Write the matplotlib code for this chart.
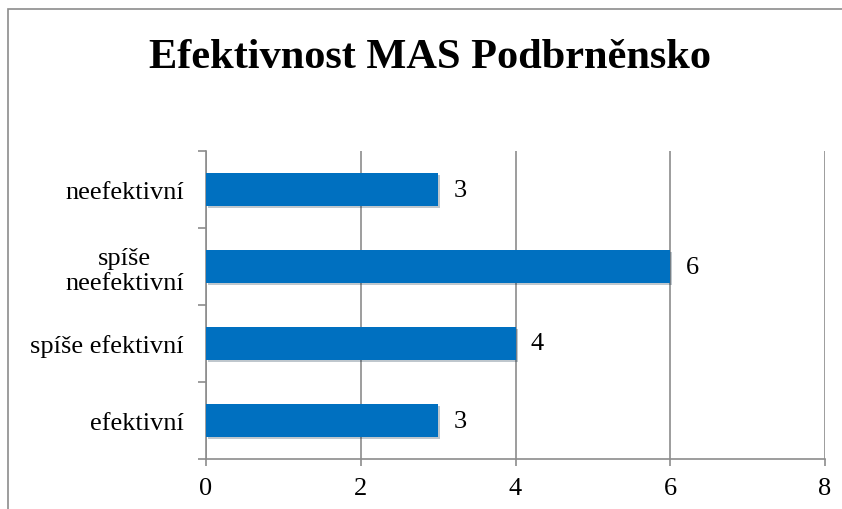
import matplotlib.pyplot as plt
import matplotlib.patheffects as pe
from matplotlib.patches import Rectangle
import numpy as np

categories = ["efektivní", "spíše efektivní", "spíše\nneefektivní", "neefektivní"]
values = [3, 4, 6, 3]
x_ticks = [0, 2, 4, 6, 8]

plt.rcParams['font.family'] = ['Liberation Serif', 'DejaVu Serif']

fig = plt.figure(figsize=(8.42, 5.1), dpi=100)
# outer chart frame (cut off at right/bottom like the source)
fig.patches.append(Rectangle((8 / 842, -0.1), 1.2, 1 - 10 / 510 + 0.1,
                             transform=fig.transFigure, fill=False,
                             edgecolor='#8c8c8c', linewidth=1.2))

ax = fig.add_axes([206 / 842, 1 - 460 / 510, (825 - 206) / 842, (460 - 152) / 510])

pos = np.arange(len(categories))
bars = ax.barh(pos, values, height=0.42, color='#0070C0', zorder=3)
for b, v in zip(bars, values):
    b.set_path_effects([pe.SimplePatchShadow(offset=(1.5, -1.5), alpha=0.25),
                        pe.Normal()])
    ax.text(v + 0.2, b.get_y() + b.get_height() / 2, str(v),
            va='center', ha='left', fontsize=19)

ax.set_xlim(0, 8)
ax.set_ylim(-0.5, len(categories) - 0.5)
ax.set_xticks(x_ticks)
ax.set_xticklabels([str(t) for t in x_ticks], fontsize=19)
ax.xaxis.grid(True, color='#8c8c8c', linewidth=1.2, zorder=0)

ax.set_yticks(np.arange(len(categories) + 1) - 0.5)
ax.set_yticklabels([])
ax.set_yticks(pos, minor=True)
ax.set_yticklabels(categories, minor=True, fontsize=19, multialignment='center')
ax.tick_params(axis='y', which='minor', length=0, pad=16)
ax.tick_params(axis='y', which='major', length=6, color='#8c8c8c', width=1.2)
ax.tick_params(axis='x', length=5, color='#8c8c8c', width=1.2, pad=8)

for s in ['top', 'right']:
    ax.spines[s].set_visible(False)
for s in ['left', 'bottom']:
    ax.spines[s].set_color('#8c8c8c')
    ax.spines[s].set_linewidth(1.2)

fig.text(430 / 842, 1 - 58 / 510, "Efektivnost MAS Podbrněnsko",
         ha='center', va='center', fontsize=30.5, fontweight='bold')

fig.savefig("out.png", dpi=100)
